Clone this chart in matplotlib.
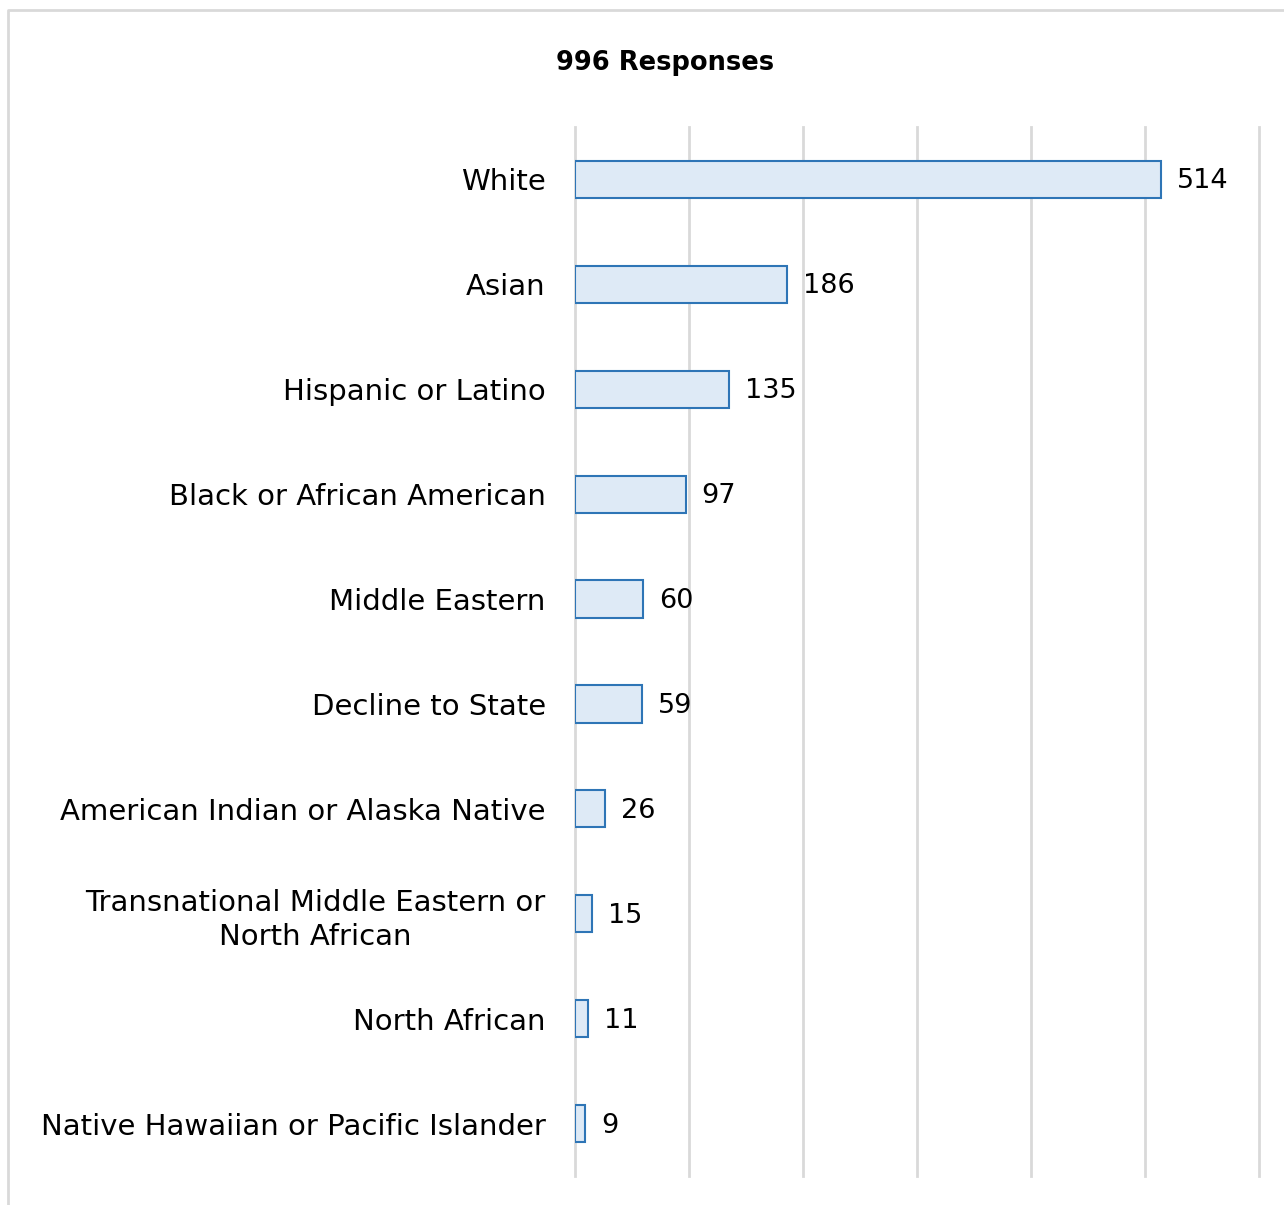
import matplotlib
matplotlib.use("Agg")
import matplotlib.pyplot as plt
from matplotlib.lines import Line2D

categories = ["White", "Asian", "Hispanic or Latino", "Black or African American",
              "Middle Eastern", "Decline to State", "American Indian or Alaska Native",
              "Transnational Middle Eastern or\nNorth African", "North African",
              "Native Hawaiian or Pacific Islander"]
values = [514, 186, 135, 97, 60, 59, 26, 15, 11, 9]
title = "996 Responses"

plt.rcParams['font.family'] = ['DejaVu Sans']
W, H = 1284, 1205
fig = plt.figure(figsize=(W/100, H/100), dpi=100)
ax = fig.add_axes([575/W, 29/H, 684/W, 1049/H])

y = list(range(len(categories)))
ax.barh(y, values, height=0.355, color="#DEEAF6", edgecolor="#2E75B6", linewidth=1.5, zorder=3)
ax.set_xlim(0, 600)
ax.set_ylim(len(categories)-0.5, -0.5)
ax.set_xticks(range(0, 601, 100))
ax.xaxis.grid(True, color="#D9D9D9", linewidth=2, zorder=0)
for gl in ax.get_xgridlines():
    gl.set_clip_on(False)
ax.tick_params(axis='x', length=0, labelbottom=False)
ax.tick_params(axis='y', length=0, pad=21)
ax.set_yticks(y)
ax.set_yticklabels(categories, fontsize=21, color="#000000", multialignment='center',
                   linespacing=1.3)
for s in ax.spines.values():
    s.set_visible(False)
for yi, v in zip(y, values):
    ax.annotate(str(v), (v, yi), xytext=(16, -2), textcoords='offset pixels',
                va='center', ha='left', fontsize=19.5, color="#000000")

fig.text(665/W, 1-63/H, title, ha='center', va='center', fontsize=18.5, fontweight='bold')

fig.add_artist(Line2D([8/W, 8/W, 1.0], [0, 1-10/H, 1-10/H], transform=fig.transFigure,
                      color="#D9D9D9", linewidth=2))
fig.savefig("out.png", dpi=100)
